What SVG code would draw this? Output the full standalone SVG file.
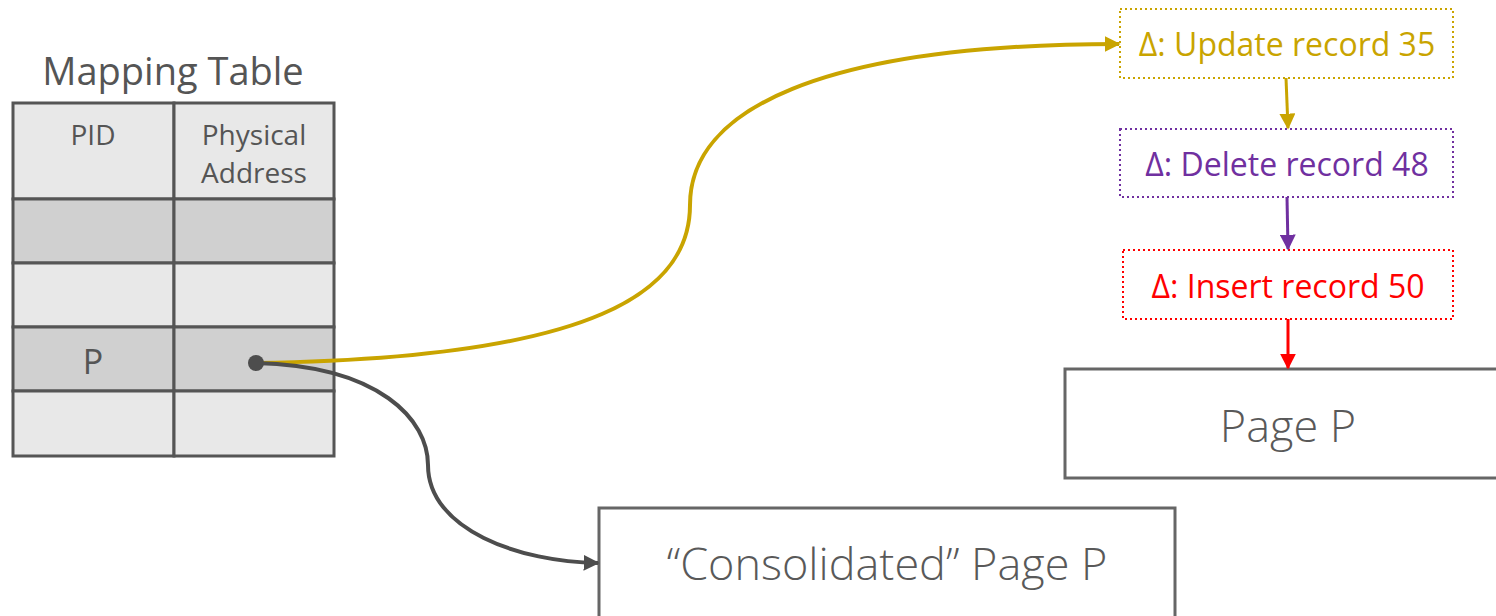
<svg xmlns="http://www.w3.org/2000/svg" width="1496" height="616" viewBox="0 0 1496 616">
  <style>
    text { font-family: "Open Sans", "Noto Sans", "Liberation Sans", sans-serif; text-anchor: middle; }
    .title { font-size: 38px; fill: #555555; }
    .cellText { font-size: 28px; fill: #555555; }
    .page { font-size: 45px; fill: #595959; font-weight: 300; }
    .delta { font-size: 32px; }
    .cell { stroke: #555555; stroke-width: 3; }
    .light { fill: #e8e8e8; }
    .dark { fill: #d0d0d0; }
    .pageBox { fill: #ffffff; stroke: #666666; stroke-width: 3; }
    .deltaBox { fill: #ffffff; stroke-width: 2; stroke-dasharray: 2 3; }
  </style>
  <defs>
    <marker id="arrGold" viewBox="0 0 10 10" refX="9" refY="5" markerWidth="16" markerHeight="16" orient="auto" markerUnits="userSpaceOnUse">
      <path d="M0,0 L10,5 L0,10 z" fill="#c9a400"/>
    </marker>
    <marker id="arrPurple" viewBox="0 0 10 10" refX="9" refY="5" markerWidth="16" markerHeight="16" orient="auto" markerUnits="userSpaceOnUse">
      <path d="M0,0 L10,5 L0,10 z" fill="#7030a0"/>
    </marker>
    <marker id="arrRed" viewBox="0 0 10 10" refX="9" refY="5" markerWidth="16" markerHeight="16" orient="auto" markerUnits="userSpaceOnUse">
      <path d="M0,0 L10,5 L0,10 z" fill="#ff0000"/>
    </marker>
    <marker id="arrGray" viewBox="0 0 10 10" refX="9" refY="5" markerWidth="16" markerHeight="16" orient="auto" markerUnits="userSpaceOnUse">
      <path d="M0,0 L10,5 L0,10 z" fill="#4d4d4d"/>
    </marker>
  </defs>

  <!-- Mapping table -->
  <g id="mapping-table">
    <text class="title" x="173" y="85">Mapping Table</text>
    <rect class="cell light" x="13" y="103" width="161" height="96"/>
    <rect class="cell light" x="174" y="103" width="160" height="96"/>
    <rect class="cell dark" x="13" y="199" width="161" height="64"/>
    <rect class="cell dark" x="174" y="199" width="160" height="64"/>
    <rect class="cell light" x="13" y="263" width="161" height="64"/>
    <rect class="cell light" x="174" y="263" width="160" height="64"/>
    <rect class="cell dark" x="13" y="327" width="161" height="64"/>
    <rect class="cell dark" x="174" y="327" width="160" height="64"/>
    <rect class="cell light" x="13" y="391" width="161" height="65"/>
    <rect class="cell light" x="174" y="391" width="160" height="65"/>
    <text class="cellText" x="93" y="145">PID</text>
    <text class="cellText" x="254" y="145">Physical</text>
    <text class="cellText" x="254" y="183">Address</text>
    <text class="cellText" x="93" y="374" style="font-size:34px">P</text>
  </g>

  <!-- Delta chain -->
  <g id="delta-update">
    <rect class="deltaBox" x="1120" y="9" width="333" height="69" stroke="#c9a400"/>
    <text class="delta" x="1287" y="56" fill="#c9a400">Δ: Update record 35</text>
  </g>
  <g id="delta-delete">
    <rect class="deltaBox" x="1120" y="129" width="333" height="68" stroke="#7030a0"/>
    <text class="delta" x="1287" y="176" fill="#7030a0">Δ: Delete record 48</text>
  </g>
  <g id="delta-insert">
    <rect class="deltaBox" x="1123" y="250" width="330" height="69" stroke="#ff0000"/>
    <text class="delta" x="1288" y="298" fill="#ff0000">Δ: Insert record 50</text>
  </g>

  <!-- Base pages -->
  <g id="page-p">
    <rect class="pageBox" x="1065" y="369" width="440" height="109"/>
    <text class="page" x="1288" y="442">Page P</text>
  </g>
  <g id="consolidated-page-p">
    <rect class="pageBox" x="599" y="508" width="576" height="120"/>
    <text class="page" x="887" y="580">“Consolidated” Page P</text>
  </g>

  <!-- Connectors -->
  <g id="connectors" fill="none" stroke-width="4">
    <path d="M256,363 C600,358 690,290 690,205 C690,110 820,44 1119,44" stroke="#c9a400" marker-end="url(#arrGold)"/>
    <path d="M1286,78 L1288,128" stroke="#c9a400" stroke-width="3" marker-end="url(#arrGold)"/>
    <path d="M1287,197 L1288,249" stroke="#7030a0" stroke-width="3" marker-end="url(#arrPurple)"/>
    <path d="M1288,319 L1288,368" stroke="#ff0000" stroke-width="3" marker-end="url(#arrRed)"/>
    <path d="M256,363 C380,366 428,420 428,465 C428,530 520,562 598,563" stroke="#4d4d4d" marker-end="url(#arrGray)"/>
    <circle cx="256" cy="363" r="8" fill="#4d4d4d" stroke="none"/>
  </g>
</svg>
